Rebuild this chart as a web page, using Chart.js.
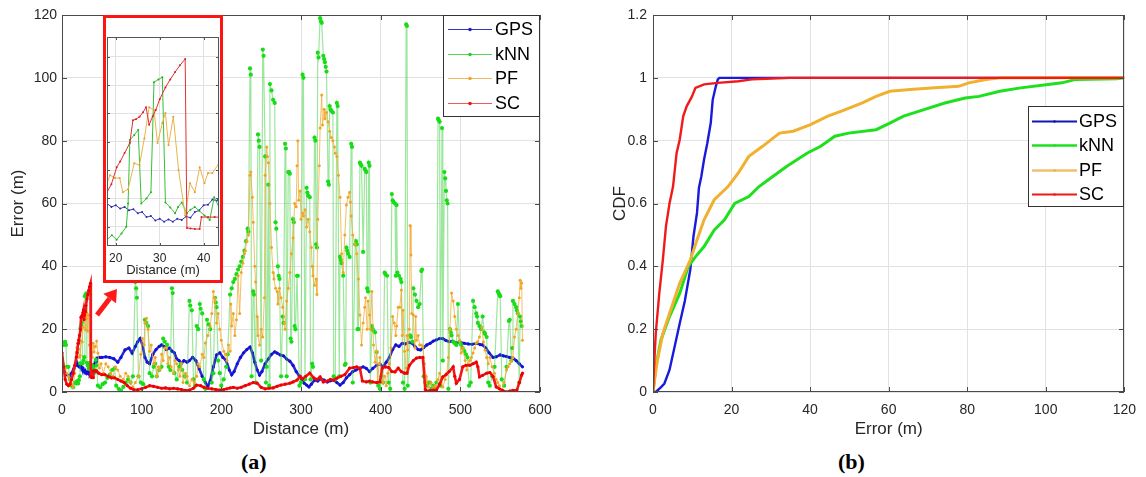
<!DOCTYPE html>
<html><head><meta charset="utf-8">
<script src="https://cdn.jsdelivr.net/npm/chart.js@4.4.0/dist/chart.umd.min.js"></script>
<style>
html,body{margin:0;padding:0;background:#fff;width:1146px;height:477px;overflow:hidden;}
#wrap{position:relative;width:1146px;height:477px;}
canvas{position:absolute;}
#cA{left:0;top:0;}
#cB{left:600px;top:0;}
#cI{left:103px;top:15px;background:#fff;}
#insetBorder{position:absolute;left:103px;top:15px;width:120px;height:268px;border:3.5px solid #ff1414;box-sizing:border-box;}
.lbl{position:absolute;font:bold 22px 'Liberation Serif','DejaVu Serif',serif;color:#000;top:449px;}
</style></head>
<body><div id="wrap">
<canvas id="cA" width="573" height="445"></canvas>
<canvas id="cB" width="546" height="445"></canvas>
<canvas id="cI" width="120" height="268"></canvas>
<div id="insetBorder"></div>
<div class="lbl" style="left:241px">(a)</div>
<div class="lbl" style="left:838px">(b)</div>
</div>
<script>
// ---------- DATA ----------
const seriesNames = ['GPS','kNN','PF','SC'];

// (a) Error vs distance
const gpsDist = [0,3,6,9,12,15,
 18,19,20,21,22,23,24,25,26,27,28,29,30,31,32,33,34,35,36,37,38,39,40,41,42,43,44,
 47,50,55,60,65,70,74,79,84,88,
 92,95,98,101,104,107,110,114,118,122,
 125,128,131,135,138,141,144,147,150,153,
 157,160,164,168,172,176,180,183,186,190,
 194,198,202,206,210,213,216,220,224,228,
 232,236,239,242,245,248,251,255,259,263,
 267,270,274,278,282,286,290,294,298,301,
 304,307,310,313,317,321,325,329,333,337,
 341,345,349,353,357,361,365,369,374,378,
 382,386,390,395,399,403,407,411,415,419,
 423,427,431,435,439,443,447,450,454,458,
 462,466,470,474,478,482,486,490,495,500,
 505,510,515,520,525,528,532,536,541,545,
 550,554,558,562,566,570,574,578];
const gpsErr = [7,6.5,5.5,5,6,7.5,
 9.1,8.5,8.8,8.2,8.5,7.9,8.1,7.4,7.6,6.7,6.9,6.1,6.4,5.9,6.3,5.9,6.4,6.2,6.8,6.6,7.6,7.9,8.8,8.9,9.8,9.6,10.8,
 11,11,11.2,11,10.6,9.5,11,13.4,14,12.4,
 14.5,16,17,15,11,9.5,9,12,13.5,14.5,
 15,14.5,13.5,14,13,12.5,10.5,10,9,10,
 9.5,10,11,10,7.5,5,3,1.8,3.5,8,
 11.8,12.5,11,10,7,5.5,6.5,9,11,12.5,
 13.5,14.3,12.5,9.5,7,5.4,6.5,9,10.5,12,
 12.8,12.4,11.8,11.5,10.5,9.8,8.5,6.5,5,4,
 2.8,2.2,1.6,2.5,3.8,3.5,4.2,3.8,3.2,3.6,
 3.8,3,2.2,3,4.5,5.5,6.5,7,7.6,8,
 7.5,6.5,7.5,8.5,9,8,9.5,11,13.5,15,
 14.5,15.5,15.3,15.8,15.6,14.5,13.5,13.4,14.2,15,
 15.5,16.2,16.6,17,17,16.4,16,16.2,15.6,15.8,
 15.5,15.3,15.2,15.5,15.1,15,14,12.5,11,11.2,
 11.8,11.5,11.3,11,10.8,10,9,8];

const knnDist = [0,1,2,3,4,5,6,8,10,12,
 14,16,18,19.1,20.2,21.3,22.4,22.8,23.2,24.2,
 25.1,25.8,27,28,28.7,29.7,30.6,31.3,32.4,33.5,
 34.2,35,36.2,37,38,39,40.2,41.4,42.4,43.5,
 45,48,51,54,57,60,63,66,68,71,
 74,77,80,83,86,89,92,93,94,96,
 99,102,104,106,108,110,113,115,117,119,
 122,125,127,129,132,134,136,138,139,141,
 144,147,149,151,154,157,160,161,163,165,
 167,169,171,173,174,176,178,180,182,184,
 186,188,190,192,193,194,196,198,200,203,
 206,208,211,213,215,217,219,221,223,225,
 227,229,231,233,234,236,237,238,240,241,
 243,246,247,248,250,252,253,255,256,257,
 259,260,261,263,265,267,268,269,271,272,
 273,275,277,278,280,281,282,284,285,286,
 287,288,290,291,292,293,295,296,298,300,
 302,303,305,307,308,309,311,312,314,315,
 317,318,319,320,321,322,324,325,326,328,
 329,330,331,332,334,335,336,337,338,340,
 341,343,345,346,348,349,350,351,353,355,
 356,357,358,359,361,363,364,365,368,369,
 370,371,372,374,375,376,378,380,381,382,
 383,384,385,386,387,389,390,391,393,395,
 397,399,401,403,405,406,408,410,412,414,
 415,416,418,419,420,421,423,425,426,428,
 430,432,433,434,437,438,440,441,443,445,
 447,449,451,452,454,456,458,460,462,464,
 466,468,470,472,473,474,475,477,478,480,
 481,482,483,484,485,487,488,489,491,493,
 495,497,499,500,501,503,505,507,509,511,
 513,516,518,520,521,522,524,526,528,530,
 531,533,535,537,540,543,547,548,549,550,
 552,555,558,561,562,564,565,566,568,570,
 571,572,574,575,576,577];
const knnErr = [16,15.5,15,15.5,16,15,8,8,4,2,
 1.5,3,2.7,3.5,2.7,3.8,5,9.1,20.3,21.2,
 22.1,9.1,10,11.1,30.5,31,31.4,9.3,8.4,7.4,
 8.5,9.3,7.4,8,8.5,7.8,7,6.2,10.2,8.5,
 2,1.5,2.5,3,4.5,5.5,7,7.5,2,1,
 0.5,1.6,3,4,3,5,35,33,30,5,
 3,2.5,23,22,21,6,5,8,9,5,
 7,8,17,16,15,8,7,33,31.5,6,
 4,8,9,7,5,3,29,27.5,26,4,
 2,21,20,28,26.5,25,4,1,23,21.5,
 20,3,6,30,28.5,27,10,6,2,4,
 8,12,31,33,35,36,37.5,39,40,41.5,
 43,45,48,52,51,103,101,5,32,31,
 3,82,80,78,10,109,107,75,3,8,
 66,2,98,96,93,92,54,52,40,37,
 36,5,24,22,79,77.5,5,70,70,69.5,
 17,16,55,54,21,20,37,37,2,3,
 101,100,4,65,63.5,62.5,62,4,9,8,
 81,80,47,46,108,106.5,119,118,117.5,107,
 106,105,103.5,102,67,66,91,90,89.5,89,
 5,4,92,91,5,43,42,41,37,8.6,
 9,46,45,44,43,79,78,3,47,48,
 47,20,20,73,72.5,72,44.6,71,70.5,70,
 33,32,73,72,3,21,20,19.5,19,12.7,
 2,1,5,3,38,37.5,37,3,1,63,
 61,60.5,60,37,59.5,38,37,36,35,3,
 1,117,116.5,2,18,17.5,16,33,31,29,
 27,28,38.5,39,5,3,2,3,3,1,
 2,1,3,87,86.5,86,2,84,10,70,
 68,64,61,60,1,20,19,18,16,15.5,
 15,28,16,15.5,15,14,13,12,11,2,
 3,29,27,25,24,22,21,20,24,19,
 18.5,17.5,3,2,5,8,32,31.5,31,30.5,
 4,2,8,22.6,23,10,14,29,28,27,
 26,25,3,24,22.5,21];

const pfDist = [0,2,4,6,8,10,12,14,16,18,
 18.7,19.8,20.9,21.6,22.8,24.2,25.4,26.5,27.6,28.7,
 29.5,30.6,31.3,32,33.1,34.3,35.8,36.9,38,39.1,
 40.2,41,42,43.5,45,47,49,52,55,58,
 61,64,67,70,73,77,80,83,86,89,
 92,96,99,101,103,104,106,108,110,112,
 115,117,119,121,123,125,127,129,131,133,
 135,137,140,142,144,146,148,150,152,155,
 157,160,163,166,169,171,173,176,178,180,
 183,186,188,190,191,192,194,196,198,200,
 203,205,207,209,211,212,213,215,217,219,
 221,223,225,227,229,230,232,234,236,237,
 239,240,242,243,245,246,248,250,252,254,
 255,257,258,259,261,263,265,266,268,270,
 271,273,275,277,279,280,282,284,286,288,
 290,292,294,295,296,297,299,300,302,303,
 305,307,309,311,313,314,315,317,319,320,
 321,323,324,326,327,329,330,332,334,336,
 338,340,342,343,345,347,349,351,353,355,
 357,359,361,362,363,365,368,370,372,374,
 376,378,380,381,383,384,386,387,389,391,
 393,395,396,398,399,401,403,405,407,409,
 411,413,415,417,419,420,422,424,426,427,
 428,430,432,433,434,436,437,438,439,441,
 443,444,445,447,449,451,453,455,457,458,
 460,463,466,468,470,472,474,476,478,481,
 483,485,487,489,491,493,495,497,499,501,
 503,506,508,510,512,514,516,518,520,522,
 524,527,529,531,533,535,537,540,543,545,
 547,549,552,555,558,560,562,564,566,568,
 570,572,574,575,576,577,578];
const pfErr = [11,9,7.5,6,5,4,2.5,1.5,6,12.7,
 14.1,13.6,13.6,11.1,11.6,16.2,15.9,20.6,26.1,25.6,
 19.8,23.3,25.1,19.4,24.4,15,7,12.7,11.1,15.5,
 12.7,14.5,14.5,16.2,12.4,7.6,9,6,9,8,
 6,5,8,7,5,4,6,5,3,1.6,
 3,5,12,17,15,22,23.5,20,13,15,
 9,11,5,8,7,12,10,14,14,9,
 11,8,6,10,9,7,5,9,3,6,
 5,2,4,3,5,9,8,12,11,15.6,
 18,21,25,32,30,29,22,25,20,16.5,
 13,12,10,15,13,28,21,25,18,23,
 37,25,38,41,44,45,48,50,69,70,
 62,54,40,35,24,18,15,20,17.5,30,
 69,78,75,73,60,46,38,36,33,32,
 28,33,30,27,22,20,29,33,38,44,
 49,60,59,72,80,61,64,55,57,56,
 58,52.5,55,51,46,40,37,34,36,31,
 55,72,84,94.5,85,90,87,89,86,83,
 81,80,78,76,75,69,62,44,38,50,
 59.5,62,63.6,60.5,56,50,47,44,36,24.5,
 15,22,27,30,20,29,24.5,20,32,15,
 9.5,13,3,9,11,7,3,5,2,6,
 9,14,24,22,18,21,27,27,32.5,18,
 26,13,7.6,18,13.4,20,53,43.6,25,24.5,
 14,24,16.5,18,15,15,14.3,9,5,3,
 1.6,3,1,2,1.6,4,6,3,1.6,4,
 6,11,20,31.5,29,24,20,18,16.5,12.4,
 14,10,7,9,10,11,12.4,14,15.6,16,
 17.5,20.7,16,13.4,11,9,11,8,6,4,
 3,2,0.6,3,7,8,9,10,11,17.5,
 20,25,30,35.6,33,34.7,16.5];

const scDist = [0,2,4,6,8,10,12,14,16,18,
 19,20.2,21,22,23.2,23.9,24.6,25.4,26.2,26.9,
 27.6,28.4,29.1,30,31.3,32.4,33.5,34.6,35.8,36.2,
 37,38,39.1,39.5,41,42.5,43.5,46,50,54,
 58,62,66,70,74,78,82,86,90,95,
 100,105,110,115,120,125,130,135,140,145,
 150,155,160,165,169,174,178,183,188,193,
 198,203,207,211,215,220,225,230,235,240,
 245,250,255,260,265,270,275,280,286,290,
 295,299,302,306,311,316,320,324,328,333,
 337,341,345,350,355,361,366,370,374,377,
 382,386,390,395,399,402,406,410,414,418,
 422,426,430,433,436,441,445,449,453,456,
 458,462,466,470,474,478,482,486,491,493,
 495,499,503,507,512,516,520,522,524,528,
 533,537,541,545,549,553,558,562,566,571,
 574,577,578];
const scErr = [12.5,8,4,2.5,2,2.5,4,6,8.5,11.1,
 12.5,15.5,16.5,18,19.8,23.8,24,24.4,25.2,26.1,
 23,24.5,25.6,27.5,29.6,31,32.3,33.5,34.6,4.8,
 4.7,4.6,4.6,6.7,6.7,6.7,6.7,6,5.5,5.5,
 5,4.5,4.5,4,3.5,3,2,1.2,0.8,0.7,
 1,1.5,2,1.8,1.5,1.2,1.3,1,1.2,1,
 0.8,0.5,0.6,1.2,2.2,2,1.5,1.2,1,0.8,
 0.6,0.8,1,1.3,1.5,1.2,1.5,2,2.5,3,
 2.8,1.5,1,1.2,1.3,1.8,2.2,2.5,2.8,3.2,
 3.8,5,4.2,5,6,4.5,4,4.8,3.2,3.5,
 4,3.8,4.4,5,5.5,7.6,7.8,8,7.5,3.5,
 3.2,3.5,3.2,3,3.2,7.6,8,7.8,6.5,6.4,
 7.6,6.5,6,6,8.5,10,10.8,11,11,0.8,
 0.3,0.5,0.6,0.6,2.5,4.8,5.5,6.5,8,5,
 2.8,4,8,8.5,8.5,9,9.5,8,4.8,5.3,
 6,6.2,5,1.6,1,0.5,0,0.3,0.5,0.6,
 3,5.4,6];

// (b) CDF of error
const cdfGpsErr = [0,0.7,2,2.9,4.2,5.5,6.8,8.1,9.5,10.3,11.2,11.7,12.3,13,13.8,14.7,15.2,16,16.5,16.9,40,80,120];
const cdfGpsP   = [0,0,0.015,0.027,0.07,0.144,0.218,0.29,0.39,0.495,0.57,0.65,0.686,0.74,0.79,0.856,0.93,0.973,0.995,1,1,1,1];
const cdfKnnErr = [0,0.7,2,4.2,6.8,9,10.8,13,15.6,18.2,20.8,24.4,27,30.5,34,39.2,42.7,46.3,49.8,56.8,60.3,63.8,69,74.3,79.5,83,88.3,93.6,100.6,104.1,107.6,118,119.9];
const cdfKnnP   = [0,0.08,0.165,0.24,0.314,0.4,0.43,0.463,0.516,0.548,0.6,0.622,0.654,0.686,0.718,0.76,0.782,0.814,0.824,0.835,0.856,0.878,0.899,0.92,0.936,0.941,0.957,0.968,0.979,0.984,0.995,0.997,1];
const cdfPfErr  = [0,1.1,2.5,4.2,6.8,9.5,11.2,13,15.6,19.1,21.7,24.4,27.9,32.2,35.7,40.1,44.5,48,53.3,56.8,60.3,65.5,70.8,77.8,80.4,84.8,88.3,100,120];
const cdfPfP    = [0,0.1,0.186,0.25,0.346,0.42,0.484,0.548,0.612,0.654,0.697,0.75,0.782,0.824,0.83,0.851,0.878,0.894,0.92,0.941,0.957,0.963,0.968,0.973,0.984,0.995,1,1,1];
const cdfScErr  = [0,0.26,0.7,1.6,2.5,3.3,4.2,5.1,6,6.8,7.7,8.6,9.9,10.8,13,16.5,21.7,25.2,28.7,34.9,60,90,120];
const cdfScP    = [0,0.08,0.186,0.314,0.42,0.527,0.6,0.654,0.76,0.803,0.878,0.91,0.94,0.968,0.979,0.984,0.989,0.995,0.997,1,1,1,1];

// tick values
const insetXTicks = [20,30,40];
const insetYTicks = [5,10,15,20,25,30,35];

// ---------- RENDERING ----------
const FONT = "'Liberation Sans', Arial, sans-serif";
const TXT = '#262626';
const xy = (xs, ys) => xs.map((x, i) => ({x: x, y: ys[i]}));

const boxPlugin = {
  id: 'matBox',
  afterDraw(chart, args, o) {
    const ctx = chart.ctx, a = chart.chartArea, xs = chart.scales.x, ys = chart.scales.y;
    ctx.save();
    ctx.strokeStyle = o.frameColor; ctx.lineWidth = 1;
    const L = Math.round(a.left), T = Math.round(a.top), R = Math.round(a.right), B = Math.round(a.bottom);
    ctx.strokeRect(L + 0.5, T + 0.5, R - L - 1, B - T - 1);
    const tl = o.tickLen;
    ctx.beginPath();
    xs.ticks.forEach(t => { const p = Math.round(xs.getPixelForValue(t.value)) + 0.5;
      ctx.moveTo(p, B); ctx.lineTo(p, B - tl); ctx.moveTo(p, T); ctx.lineTo(p, T + tl); });
    ys.ticks.forEach(t => { const p = Math.round(ys.getPixelForValue(t.value)) + 0.5;
      ctx.moveTo(L, p); ctx.lineTo(L + tl, p); ctx.moveTo(R, p); ctx.lineTo(R - tl, p); });
    ctx.stroke();
    if (o.arrow) {
      const A = o.arrow;
      const x0 = xs.getPixelForValue(A.from[0]), y0 = ys.getPixelForValue(A.from[1]);
      const x1 = xs.getPixelForValue(A.to[0]), y1 = ys.getPixelForValue(A.to[1]);
      const ang = Math.atan2(y1 - y0, x1 - x0);
      const bx = x1 - A.head * Math.cos(ang), by = y1 - A.head * Math.sin(ang);
      ctx.strokeStyle = A.color; ctx.lineWidth = A.width; ctx.lineCap = 'butt';
      ctx.beginPath(); ctx.moveTo(x0, y0); ctx.lineTo(bx, by); ctx.stroke();
      ctx.fillStyle = A.color; ctx.beginPath(); ctx.moveTo(x1, y1);
      ctx.lineTo(bx + A.headW * Math.sin(ang), by - A.headW * Math.cos(ang));
      ctx.lineTo(bx - A.headW * Math.sin(ang), by + A.headW * Math.cos(ang));
      ctx.closePath(); ctx.fill();
    }
    if (o.legend) {
      const G = o.legend;
      const lx = R - G.w, ly = T + G.dy;
      ctx.fillStyle = '#fff'; ctx.fillRect(lx, ly, G.w, G.h);
      ctx.strokeStyle = '#333'; ctx.lineWidth = 1; ctx.strokeRect(lx + 0.5, ly + 0.5, G.w - 1, G.h - 1);
      ctx.font = G.size + 'px ' + FONT; ctx.textBaseline = 'middle'; ctx.textAlign = 'left';
      seriesNames.forEach((name, i) => {
        const yy = Math.round(ly + G.first + i * G.step) + 0.5;
        ctx.strokeStyle = G.colors[i]; ctx.lineWidth = G.lw[i];
        ctx.beginPath(); ctx.moveTo(lx + G.l1, yy); ctx.lineTo(lx + G.l2, yy); ctx.stroke();
        ctx.fillStyle = G.dots[i]; ctx.beginPath(); ctx.arc(lx + (G.l1 + G.l2) / 2, yy, G.dotR, 0, Math.PI * 2); ctx.fill();
        ctx.fillStyle = '#000'; ctx.fillText(name, lx + G.tx, yy + 1);
      });
    }
    ctx.restore();
  }
};

function axis(o) {
  return {
    type: 'linear', min: o.min, max: o.max,
    ticks: { stepSize: o.step, color: TXT, font: { family: FONT, size: o.fs || 14 }, padding: o.pad,
             maxRotation: 0, autoSkip: false, display: o.showTicks !== false,
             callback: v => +(+v).toFixed(2) },
    grid: { color: '#e2e2e2', lineWidth: 1, drawTicks: false },
    border: { display: false },
    title: { display: !!o.title, text: o.title, color: TXT, font: { family: FONT, size: o.tfs || 17 }, padding: o.tpad },
    afterFit(s) { if (o.isY) s.width = o.size; else s.height = o.size; },
    afterBuildTicks: o.fixed ? (s => { s.ticks = o.fixed.map(v => ({ value: v })); }) : undefined
  };
}

// ----- chart (a)
const mainSets = [
  { label: seriesNames[0], data: xy(gpsDist, gpsErr), borderColor: '#2a2ad0', borderWidth: 2.6,
    pointRadius: 1.6, pointBackgroundColor: '#1010d8', pointBorderWidth: 0, order: 4 },
  { label: seriesNames[1], data: xy(knnDist, knnErr), borderColor: 'rgba(60,205,60,0.5)', borderWidth: 1.2,
    pointRadius: 2.1, pointBackgroundColor: '#18dc18', pointBorderWidth: 0, order: 3 },
  { label: seriesNames[2], data: xy(pfDist, pfErr), borderColor: 'rgba(240,175,60,0.8)', borderWidth: 1,
    pointRadius: 1.5, pointBackgroundColor: '#f0a526', pointBorderWidth: 0, order: 2 },
  { label: seriesNames[3], data: xy(scDist, scErr), borderColor: '#f01818', borderWidth: 2.6,
    pointRadius: 1.6, pointBackgroundColor: '#f00000', pointBorderWidth: 0, order: 1 }
];
new Chart(document.getElementById('cA'), {
  type: 'line',
  data: { datasets: mainSets },
  options: {
    responsive: false, animation: false, devicePixelRatio: 1,
    layout: { padding: { top: 15, right: 33, left: 0, bottom: 0 } },
    elements: { line: { tension: 0 } },
    plugins: { legend: { display: false }, tooltip: { enabled: false },
      matBox: { frameColor: '#4a4a4a', tickLen: 5,
        arrow: { from: [44, 24.5], to: [69, 32.8], color: '#ff1a1a', width: 5, head: 12, headW: 8 },
        legend: { w: 97, h: 102, dy: 0, first: 14, step: 24.7, l1: 5, l2: 49, tx: 52, size: 18, dotR: 1.8,
          colors: ['#3535c0', '#5ad25a', '#f0b860', '#f05a5a'], dots: ['#2020c0', '#20d020', '#f0a526', '#f01010'],
          lw: [1.2, 1.2, 1.2, 1.2] } } },
    scales: {
      x: axis({ min: 0, max: 600, step: 100, pad: 10, title: 'Distance (m)', tpad: { bottom: 5 }, size: 53 }),
      y: axis({ min: 0, max: 120, step: 20, pad: 5, title: 'Error (m)', tpad: { top: 8 }, isY: true, size: 62 })
    }
  },
  plugins: [boxPlugin]
});

// ----- inset
const insetSets = [
  { data: xy(gpsDist, gpsErr), borderColor: '#3a3ab0', borderWidth: 1, pointRadius: 1, pointBackgroundColor: '#2a2aa8', pointBorderWidth: 0, order: 4 },
  { data: xy(knnDist, knnErr), borderColor: '#35c035', borderWidth: 1, pointRadius: 1, pointBackgroundColor: '#20b020', pointBorderWidth: 0, order: 3 },
  { data: xy(pfDist, pfErr), borderColor: '#e8b44a', borderWidth: 1, pointRadius: 1, pointBackgroundColor: '#e0a030', pointBorderWidth: 0, order: 2 },
  { data: xy(scDist, scErr), borderColor: '#e03030', borderWidth: 1, pointRadius: 1, pointBackgroundColor: '#d82020', pointBorderWidth: 0, order: 1 }
];
new Chart(document.getElementById('cI'), {
  type: 'line',
  data: { datasets: insetSets },
  options: {
    responsive: false, animation: false, devicePixelRatio: 1,
    layout: { padding: { top: 22, right: 2, left: 0, bottom: 0 } },
    plugins: { legend: { display: false }, tooltip: { enabled: false }, matBox: { frameColor: '#555', tickLen: 3 } },
    scales: {
      x: axis({ min: 18, max: 43.5, step: 10, pad: 5, fs: 12, title: 'Distance (m)', tfs: 13, tpad: { bottom: 5 }, size: 37, fixed: insetXTicks }),
      y: axis({ min: 1.6, max: 38.5, step: 5, pad: 0, showTicks: false, isY: true, size: 2, fixed: insetYTicks })
    }
  },
  plugins: [boxPlugin]
});

// ----- chart (b)
const cdfSets = [
  { label: seriesNames[0], data: xy(cdfGpsErr, cdfGpsP), borderColor: '#1a1adc', borderWidth: 2.4, pointRadius: 0, order: 4 },
  { label: seriesNames[1], data: xy(cdfKnnErr, cdfKnnP), borderColor: '#1ee01e', borderWidth: 3, pointRadius: 0, order: 3 },
  { label: seriesNames[2], data: xy(cdfPfErr, cdfPfP), borderColor: '#f0b030', borderWidth: 3, pointRadius: 0, order: 2 },
  { label: seriesNames[3], data: xy(cdfScErr, cdfScP), borderColor: '#f01a1a', borderWidth: 2.4, pointRadius: 0, order: 1 }
];
new Chart(document.getElementById('cB'), {
  type: 'line',
  data: { datasets: cdfSets },
  options: {
    responsive: false, animation: false, devicePixelRatio: 1,
    layout: { padding: { top: 15, right: 16, left: 0, bottom: 0 } },
    plugins: { legend: { display: false }, tooltip: { enabled: false },
      matBox: { frameColor: '#4a4a4a', tickLen: 5,
        legend: { w: 96, h: 101, dy: 91, first: 15, step: 24.4, l1: 4, l2: 49, tx: 51, size: 18, dotR: 1.2,
          colors: ['#1414b4', '#1ee01e', '#f0c070', '#f01818'], dots: ['#1414b4', '#1ee01e', '#f0b040', '#f01818'],
          lw: [1.8, 2.4, 2.4, 1.8] } } },
    scales: {
      x: axis({ min: 0, max: 120, step: 20, pad: 10, title: 'Error (m)', tpad: { bottom: 5 }, size: 53 }),
      y: axis({ min: 0, max: 1.2, step: 0.2, pad: 6, title: 'CDF', tpad: { top: 10 }, isY: true, size: 53 })
    }
  },
  plugins: [boxPlugin]
});
</script>
</body></html>
